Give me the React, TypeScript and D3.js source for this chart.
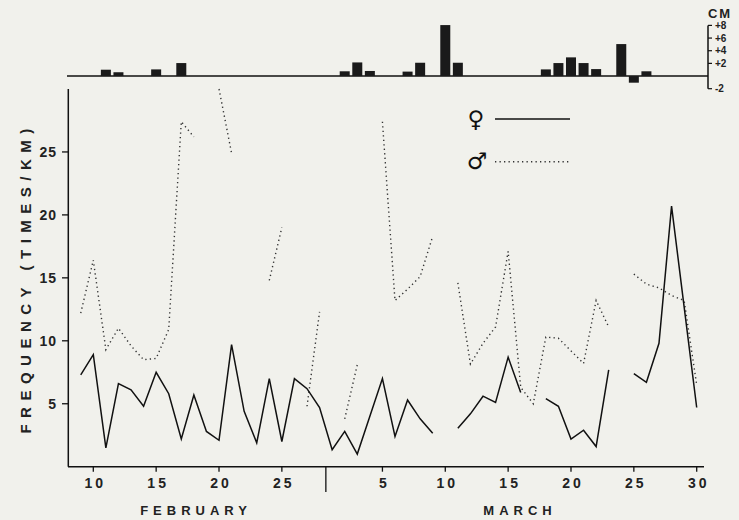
import * as d3 from "d3";

// day index: Feb n -> n, Mar n -> 28 + n
const febDays = d3.range(9, 29);
const marDays = d3.range(1, 31);

// frequency (times/km), null = no count
const femaleFeb = [7.3, 8.9, 1.5, 6.6, 6.1, 4.8, 7.5, 5.8, 2.2, 5.7, 2.8, 2.1, 9.7, 4.4, 1.9, 7.0, 2.0, 7.0, 6.2, 4.7];
const femaleMar = [1.35, 2.8, 1.0, 4.0, 7.0, 2.4, 5.3, 3.8, 2.65, null, 3.05, 4.2, 5.6, 5.1, 8.7, 5.9, null, 5.4, 4.8, 2.2, 2.9, 1.6, 7.7, null, 7.4, 6.7, 9.8, 20.7, 12.7, 4.7];
const maleFeb = [12.2, 16.4, 9.3, 11.0, 9.6, 8.5, 8.6, 10.9, 27.4, 26.2, null, 30.0, 24.9, null, null, 14.8, 19.0, null, 4.8, 12.3];
const maleMar = [null, 3.8, 8.1, null, 27.4, 13.2, 14.1, 15.1, 18.3, null, 14.6, 8.15, 9.8, 11.1, 17.1, 6.3, 5.0, 10.3, 10.2, 9.2, 8.2, 13.2, 11.1, null, 15.3, 14.5, 14.2, 13.6, 13.2, 6.5];

// rainfall (cm)
const rainDays = [11, 12, 15, 17, 30, 31, 32, 35, 36, 38, 39, 46, 47, 48, 49, 50, 52, 53, 54];
const rainCm = [1.0, 0.6, 1.05, 2.05, 0.75, 2.15, 0.8, 0.7, 2.1, 8.05, 2.1, 1.05, 2.05, 2.95, 2.05, 1.1, 5.05, -1.05, 0.75];

const xTickDays = [10, 15, 20, 25, 33, 38, 43, 48, 53, 58];
const xTickLabels = ["10", "15", "20", "25", "5", "10", "15", "20", "25", "30"];
const yTicks = [5, 10, 15, 20, 25];
const rainTicks = [8, 6, 4, 2, -2];
const rainTickLabels = ["+8", "+6", "+4", "+2", "-2"];

const font = "'Liberation Sans', Arial, sans-serif";

const App = () => {
  const x = d3.scaleLinear().domain([10, 58]).range([93.3, 696.7]);
  const y = d3.scaleLinear().domain([0, 30]).range([466.7, 89]);
  const r = d3.scaleLinear().domain([-2, 8]).range([88.7, 25.4]);
  const bw = 10;

  const days = [...febDays, ...marDays.map((d) => d + 28)];
  const female = [...femaleFeb, ...femaleMar];
  const male = [...maleFeb, ...maleMar];

  const mk = (vals: (number | null)[]) =>
    d3
      .line<number | null>()
      .defined((v) => v != null)
      .x((_, i) => x(days[i]))
      .y((v) => y(v as number))(vals) || "";

  return (
    <svg width={739} height={520} style={{ position: "absolute", left: 0, top: 0, background: "#f1f1ec" }}>
      <rect width={739} height={520} fill="#f1f1ec" />

      {/* rainfall panel */}
      <line x1={67} x2={708} y1={r(0)} y2={r(0)} stroke="#111" strokeWidth={1.5} />
      {rainDays.map((d, i) => (
        <rect
          key={i}
          x={x(d) - bw / 2}
          width={bw}
          y={Math.min(r(0), r(rainCm[i]))}
          height={Math.abs(r(rainCm[i]) - r(0))}
          fill="#1a1a1a"
        />
      ))}
      <line x1={708} x2={708} y1={r(8)} y2={r(-2)} stroke="#111" strokeWidth={1.5} />
      {rainTicks.map((t, i) => (
        <g key={i}>
          <line x1={708} x2={712} y1={r(t)} y2={r(t)} stroke="#111" strokeWidth={1.2} />
          <text x={715} y={r(t) + 3.5} fontSize={10} fontWeight="bold" fontFamily={font} fill="#222">
            {rainTickLabels[i]}
          </text>
        </g>
      ))}
      <text x={720} y={18} fontSize={13} fontWeight="bold" fontFamily={font} fill="#222" textAnchor="middle" letterSpacing={2}>
        CM
      </text>

      {/* axes */}
      <line x1={68.3} x2={68.3} y1={89} y2={y(0)} stroke="#111" strokeWidth={1.5} />
      <line x1={68} x2={704} y1={y(0)} y2={y(0)} stroke="#111" strokeWidth={1.5} />
      {yTicks.map((t) => (
        <g key={t}>
          <line x1={62} x2={68.3} y1={y(t)} y2={y(t)} stroke="#111" strokeWidth={1.3} />
          <text x={57} y={y(t) + 5} fontSize={14} fontWeight="bold" fontFamily={font} fill="#222" textAnchor="end" letterSpacing={1}>
            {t}
          </text>
        </g>
      ))}
      {xTickDays.map((d, i) => (
        <g key={d}>
          <line x1={x(d)} x2={x(d)} y1={y(0)} y2={y(0) + 5} stroke="#111" strokeWidth={1.3} />
          <text x={x(d) + 2} y={488} fontSize={14} fontWeight="bold" fontFamily={font} fill="#222" textAnchor="middle" letterSpacing={3}>
            {xTickLabels[i]}
          </text>
        </g>
      ))}
      <line x1={x(28.5)} x2={x(28.5)} y1={y(0)} y2={492} stroke="#111" strokeWidth={1.3} />
      <text x={196} y={515} fontSize={13} fontWeight="bold" fontFamily={font} fill="#222" textAnchor="middle" letterSpacing={5}>
        FEBRUARY
      </text>
      <text x={520} y={515} fontSize={13} fontWeight="bold" fontFamily={font} fill="#222" textAnchor="middle" letterSpacing={5}>
        MARCH
      </text>
      <text
        transform={`translate(31,${(89 + 466.7) / 2}) rotate(-90)`}
        fontSize={15}
        fontWeight="bold"
        fontFamily={font}
        fill="#222"
        textAnchor="middle"
        letterSpacing={6.5}
      >
        FREQUENCY (TIMES/KM)
      </text>

      {/* series */}
      <path d={mk(male)} fill="none" stroke="#333" strokeWidth={1.4} strokeDasharray="1.3 3.2" />
      <path d={mk(female)} fill="none" stroke="#111" strokeWidth={1.5} strokeLinejoin="miter" />

      {/* legend */}
      <text x={476} y={127} fontSize={23} fontWeight="bold" fontFamily="'DejaVu Sans', sans-serif" fill="#111" textAnchor="middle">
        ♀
      </text>
      <line x1={495} x2={570} y1={119} y2={119} stroke="#111" strokeWidth={1.5} />
      <text x={477} y={169} fontSize={23} fontWeight="bold" fontFamily="'DejaVu Sans', sans-serif" fill="#111" textAnchor="middle">
        ♂
      </text>
      <line x1={495} x2={570} y1={161.7} y2={161.7} stroke="#333" strokeWidth={1.4} strokeDasharray="1.3 3.2" />
    </svg>
  );
};

export default App;
